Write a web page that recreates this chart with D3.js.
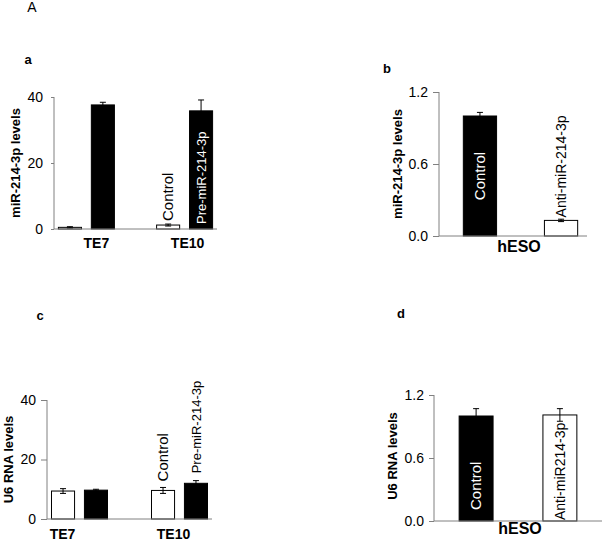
<!DOCTYPE html>
<html><head><meta charset="utf-8">
<script src="https://cdn.jsdelivr.net/npm/d3@7"></script>
<style>
body{margin:0;background:#fff;}
svg{display:block;font-family:"Liberation Sans",Arial,sans-serif;}
</style></head>
<body>
<svg id="c" width="602" height="541"></svg>
<script>
// ---- data ----
const cellLines = ["TE7", "TE10"];
const seriesAC = ["Control", "Pre-miR-214-3p"];
const aControl = [0.5, 1.2];
const aControlErr = [0.2, 0.3];
const aPre = [37.6, 35.8];
const aPreErr = [0.8, 3.3];

const bCategories = ["Control", "Anti-miR-214-3p"];
const bValues = [1.0, 0.13];
const bErr = [0.03, 0.01];

const cControl = [9.4, 9.6];
const cControlErr = [0.8, 1.0];
const cPre = [9.7, 12.0];
const cPreErr = [0.3, 0.9];

const dCategories = ["Control", "Anti-miR214-3p"];
const dValues = [1.0, 1.01];
const dErr = [0.07, 0.06];

const ticksA = [0, 20, 40];
const ticksB = [0, 0.6, 1.2];

const svg = d3.select("#c");
const AX = "#808080";

function text(x, y, s, opt) {
  const t = svg.append("text").attr("x", x).attr("y", y).text(s)
    .attr("font-size", opt.size || 13).attr("font-weight", opt.bold ? "bold" : "normal")
    .attr("fill", opt.fill || "#000").attr("text-anchor", opt.anchor || "middle");
  if (opt.rotate) t.attr("transform", `rotate(-90,${x},${y})`);
  if (opt.dy) t.attr("dy", opt.dy);
  return t;
}

function yAxis(y, x0, ticks, fmt, tickLen, pad, fs) {
  const g = svg.append("g").attr("transform", `translate(${x0},0)`)
    .call(d3.axisLeft(y).tickValues(ticks).tickSize(tickLen).tickPadding(pad).tickFormat(fmt));
  g.select(".domain").attr("stroke", AX).attr("d", `M0,${y.range()[0]}V${y.range()[1]}`);
  g.selectAll(".tick line").attr("stroke", AX);
  g.selectAll(".tick text").attr("font-size", fs).attr("fill", "#000")
    .attr("font-family", "Liberation Sans, Arial, sans-serif");
}

function baseline(y, x0, x1) {
  svg.append("line").attr("x1", x0).attr("x2", x1).attr("y1", y(0)).attr("y2", y(0))
    .attr("stroke", AX).attr("stroke-width", 1);
}

function bar(x, w, y, v, e, fill) {
  svg.append("rect").attr("x", x).attr("width", w).attr("y", y(v)).attr("height", y(0) - y(v))
    .attr("fill", fill).attr("stroke", "#000").attr("stroke-width", 1);
  const cx = x + w / 2;
  const g = svg.append("g").attr("stroke", "#000").attr("stroke-width", 1);
  g.append("line").attr("x1", cx).attr("x2", cx).attr("y1", y(v - e)).attr("y2", y(v + e));
  g.append("line").attr("x1", cx - 3).attr("x2", cx + 3).attr("y1", y(v + e)).attr("y2", y(v + e));
  g.append("line").attr("x1", cx - 3).attr("x2", cx + 3).attr("y1", y(v - e)).attr("y2", y(v - e));
}

// ---- Panel A label ----
text(32, 12, "A", {size: 14});

// ---- panel a ----
(function () {
  const y = d3.scaleLinear().domain([0, 40]).range([229, 97]);
  const x = d3.scalePoint().domain(cellLines).range([54, 217]).padding(0.33);
  const xs = d3.scaleBand().domain(seriesAC).range([-28, 28]).paddingInner(0.3);
  const w = xs.bandwidth();
  text(28, 64, "a", {size: 13, bold: true});
  yAxis(y, 54, ticksA, d3.format("d"), 3, 8, 14);
  cellLines.forEach((c, i) => {
    bar(x(c) + xs("Control"), w, y, aControl[i], aControlErr[i], "#fff");
    bar(x(c) + xs("Pre-miR-214-3p"), w, y, aPre[i], aPreErr[i], "#000");
    text(x(c) + (i === 0 ? 10 : 3), 248, c, {size: 14, bold: true});
  });
  baseline(y, 54, 217);
  const c1 = x("TE10") + xs("Control") + w / 2;
  text(c1, y(aControl[1]) - 4, "Control", {size: 15, rotate: true, anchor: "start", dy: "0.35em"});
  const c2 = x("TE10") + xs("Pre-miR-214-3p") + w / 2;
  text(c2, y(0) - 5, "Pre-miR-214-3p", {size: 13, rotate: true, anchor: "start", dy: "0.35em", fill: "#fff"});
  text(15, (y(0) + y(40)) / 2, "miR-214-3p levels", {size: 13, bold: true, rotate: true, dy: "0.35em"});
})();

// ---- panel b ----
(function () {
  const y = d3.scaleLinear().domain([0, 1.2]).range([236, 92]);
  const x = d3.scaleBand().domain(bCategories).range([439, 602]).paddingInner(0.59).paddingOuter(0.3);
  const w = x.bandwidth();
  text(387, 73, "b", {size: 13, bold: true});
  yAxis(y, 439, ticksB, d3.format(".1f"), 6, 5, 14);
  bar(x(bCategories[0]), w, y, bValues[0], bErr[0], "#000");
  bar(x(bCategories[1]), w, y, bValues[1], bErr[1], "#fff");
  baseline(y, 439, 587);
  text(x(bCategories[0]) + w / 2, (y(0) + y(bValues[0])) / 2, bCategories[0],
       {size: 15, rotate: true, dy: "0.35em", fill: "#fff"});
  text(x(bCategories[1]) + w / 2, y(bValues[1]) - 3, bCategories[1],
       {size: 14, rotate: true, anchor: "start", dy: "0.35em"});
  text(519, 252, "hESO", {size: 16, bold: true});
  text(397, (y(0) + y(1.2)) / 2, "miR-214-3p levels", {size: 13, bold: true, rotate: true, dy: "0.35em"});
})();

// ---- panel c ----
(function () {
  const y = d3.scaleLinear().domain([0, 40]).range([519, 400]);
  const x = d3.scalePoint().domain(cellLines).range([47, 212]).padding(0.325);
  const xs = d3.scaleBand().domain(seriesAC).range([-28, 28]).paddingInner(0.3);
  const w = xs.bandwidth();
  text(40, 320, "c", {size: 13, bold: true});
  yAxis(y, 47, ticksA, d3.format("d"), 6, 5, 14);
  cellLines.forEach((c, i) => {
    bar(x(c) + xs("Control"), w, y, cControl[i], cControlErr[i], "#fff");
    bar(x(c) + xs("Pre-miR-214-3p"), w, y, cPre[i], cPreErr[i], "#000");
    text(x(c) + (i === 0 ? -17 : -6), 539, c, {size: 14, bold: true});
  });
  baseline(y, 47, 212);
  const c1 = x("TE10") + xs("Control") + w / 2;
  text(c1, y(cControl[1]) - 9, "Control", {size: 15, rotate: true, anchor: "start", dy: "0.35em"});
  const c2 = x("TE10") + xs("Pre-miR-214-3p") + w / 2;
  text(c2, y(cPre[1]) - 10, "Pre-miR-214-3p", {size: 13, rotate: true, anchor: "start", dy: "0.35em"});
  text(8, (y(0) + y(40)) / 2, "U6 RNA levels", {size: 13, bold: true, rotate: true, dy: "0.35em"});
})();

// ---- panel d ----
(function () {
  const y = d3.scaleLinear().domain([0, 1.2]).range([521, 395]);
  const x = d3.scaleBand().domain(dCategories).range([434, 602]).paddingInner(0.595).paddingOuter(0.3);
  const w = x.bandwidth();
  text(401, 318, "d", {size: 13, bold: true});
  yAxis(y, 434, ticksB, d3.format(".1f"), 5, 5, 14);
  bar(x(dCategories[0]), w, y, dValues[0], dErr[0], "#000");
  bar(x(dCategories[1]), w, y, dValues[1], dErr[1], "#fff");
  baseline(y, 434, 602);
  text(x(dCategories[0]) + w / 2, y(0) - 11, dCategories[0],
       {size: 15, rotate: true, anchor: "start", dy: "0.35em", fill: "#fff"});
  text(x(dCategories[1]) + w / 2, y(0) - 1, dCategories[1],
       {size: 14, rotate: true, anchor: "start", dy: "0.35em"});
  text(520, 534, "hESO", {size: 16, bold: true});
  text(392, 456, "U6 RNA levels", {size: 13, bold: true, rotate: true, dy: "0.35em"});
})();
</script>
</body></html>
